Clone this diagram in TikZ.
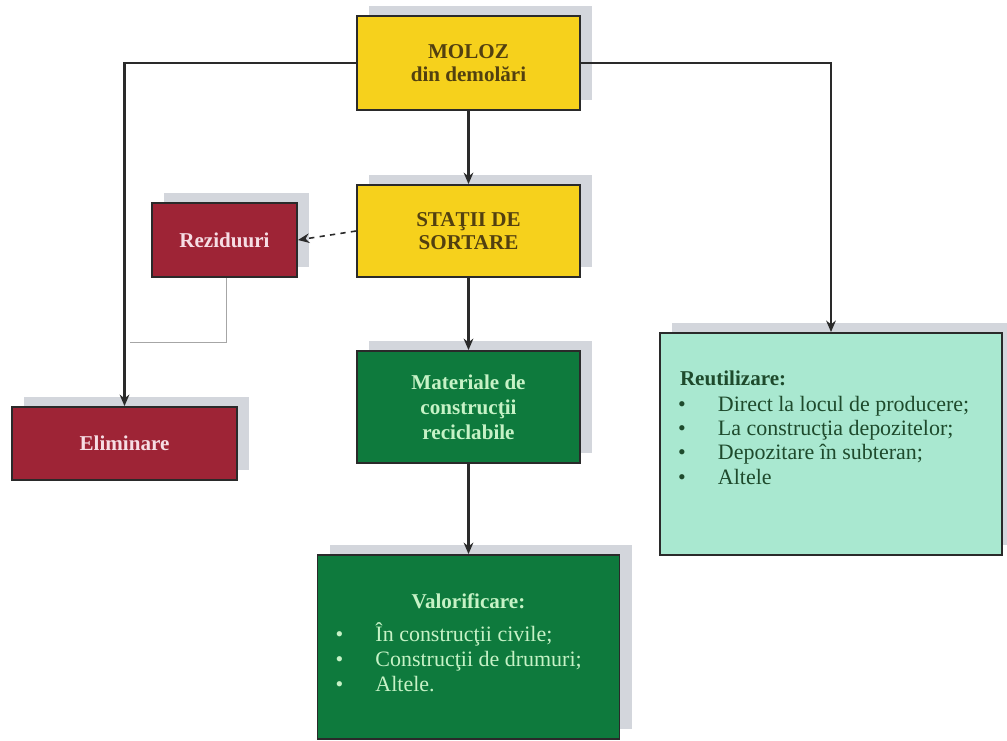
\documentclass[tikz,border=0pt]{standalone}
\usepackage{fontspec}
\setmainfont{Liberation Serif}
\usepackage{tikz}
\usetikzlibrary{positioning,shadows,arrows.meta}
\definecolor{galben}{HTML}{F6D11C}
\definecolor{maro}{HTML}{524010}
\definecolor{rosu}{HTML}{9E2436}
\definecolor{roz}{HTML}{F6DDE4}
\definecolor{verdeinchis}{HTML}{0E7A3D}
\definecolor{verdedeschis}{HTML}{C6F2C6}
\definecolor{turcoaz}{HTML}{A9E8D0}
\definecolor{verdetext}{HTML}{1E4A2C}
\definecolor{contur}{HTML}{2A2A2A}
\definecolor{umbra}{HTML}{D3D6DC}

\begin{document}
\begin{tikzpicture}[on grid,>={Stealth[length=6.5pt,width=5.5pt]},
	cutie/.style={draw=contur,line width=1.1pt,align=center,
		font=\bfseries\fontsize{12}{13.5}\selectfont,
		general shadow={fill=umbra,shadow xshift=0.24cm,shadow yshift=0.2cm}},
	galbena/.style={cutie,fill=galben,text=maro,minimum width=4.46cm},
	rosie/.style={cutie,fill=rosu,text=roz},
	verde/.style={cutie,fill=verdeinchis,text=verdedeschis},
	legatura/.style={->,line width=1.6pt,draw=contur},
	subtire/.style={line width=0.5pt,draw=gray!70}]
	\useasboundingbox (0,0) rectangle (20.14,-14.8);
	% sirul din mijloc
	\node[galbena,minimum height=1.88cm] (moloz) at (9.37,-1.26) {MOLOZ\\din demolări};
	\node[galbena,minimum height=1.84cm] (statii) [below=3.36cm of moloz] {STAŢII DE\\SORTARE};
	\node[verde,minimum width=4.46cm,minimum height=2.24cm,font=\bfseries\fontsize{12}{14.2}\selectfont]
		(mat) [below=3.52cm of statii] {Materiale de\\construcţii\\reciclabile};
	\node[verde,minimum width=6.04cm,minimum height=3.68cm,inner sep=0pt] (val) [below=4.8cm of mat]
		{\parbox[c][3.68cm][t]{6.04cm}{\vspace*{0.78cm}\centering Valorificare:\par\vspace{0.16cm}
		\raggedright\mdseries\fontsize{12.5}{14.2}\selectfont
		\hspace*{0.36cm}\makebox[0.8cm][l]{\textbullet}În construcţii civile;\par
		\hspace*{0.36cm}\makebox[0.8cm][l]{\textbullet}Construcţii de drumuri;\par
		\hspace*{0.36cm}\makebox[0.8cm][l]{\textbullet}Altele.\par}};
	% stanga
	\node[rosie,minimum width=2.9cm,minimum height=1.48cm] (rez) [left=4.88cm of statii,yshift=-0.18cm] {Reziduuri};
	\node[rosie,minimum width=4.5cm,minimum height=1.46cm] (elim) [below left=4.07cm and 2cm of rez] {Eliminare};
	% dreapta
	\node[cutie,fill=turcoaz,text=verdetext,minimum width=6.84cm,minimum height=4.44cm,inner sep=0pt]
		(reut) [below right=7.62cm and 7.25cm of moloz]
		{\parbox[c][4.44cm][t]{6.84cm}{\raggedright\vspace*{0.76cm}%
		\hspace*{0.4cm}Reutilizare:\par\vspace{0.02cm}
		\mdseries\fontsize{12.5}{13.9}\selectfont
		\hspace*{0.36cm}\makebox[0.8cm][l]{\textbullet}Direct la locul de producere;\par
		\hspace*{0.36cm}\makebox[0.8cm][l]{\textbullet}La construcţia depozitelor;\par
		\hspace*{0.36cm}\makebox[0.8cm][l]{\textbullet}Depozitare în subteran;\par
		\hspace*{0.36cm}\makebox[0.8cm][l]{\textbullet}Altele\par}};
	\coordinate (colt) at (2.6,-6.84);
	% legaturi
	\draw[legatura] (moloz) -- (statii);
	\draw[legatura] (statii) -- (mat);
	\draw[legatura] (mat) -- (val);
	\draw[legatura] (moloz.west) -| (elim.north);
	\draw[legatura] (moloz.east) -| (reut.north);
	\draw[->,dashed,line width=0.9pt,draw=contur] (statii.west) -- (rez.east);
	\draw[subtire] ([xshift=0.04cm]rez.south) |- (colt);
\end{tikzpicture}
\end{document}
